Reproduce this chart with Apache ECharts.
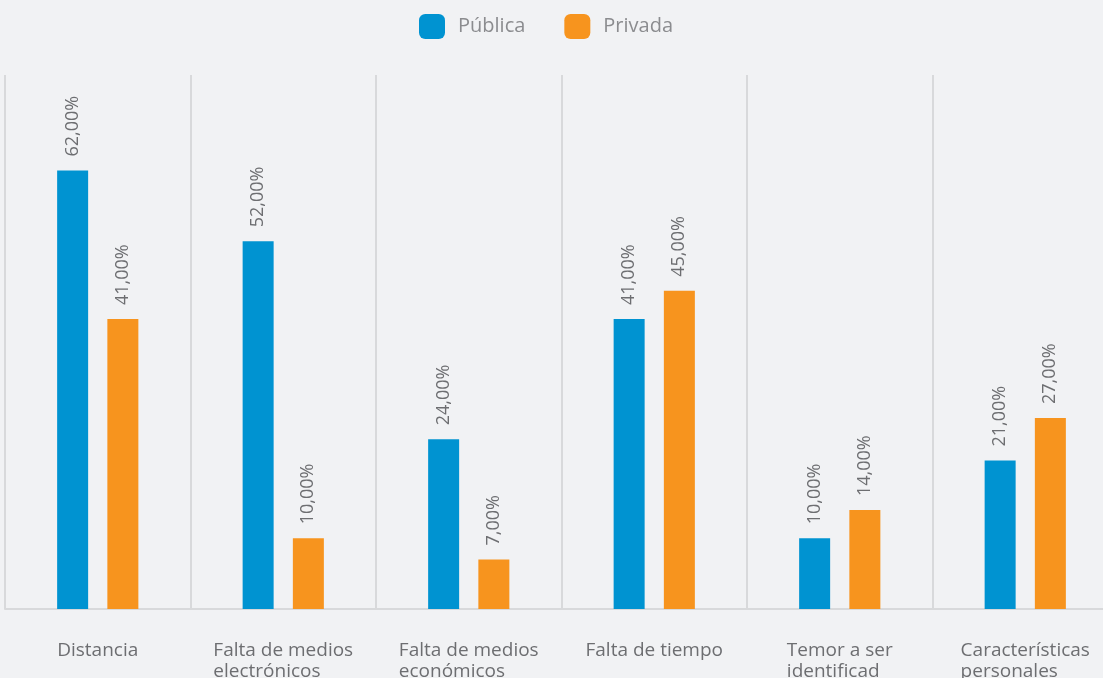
<!DOCTYPE html>
<html>
<head>
<meta charset="utf-8">
<script src="https://cdn.jsdelivr.net/npm/echarts@6/dist/echarts.min.js"></script>
<style>
html,body{margin:0;padding:0;background:#f1f2f4;}
#chart{width:1103px;height:678px;}
</style>
</head>
<body>
<div id="chart"></div>
<script>
const categories = ['Distancia', 'Falta de medios\nelectrónicos', 'Falta de medios\neconómicos', 'Falta de tiempo', 'Temor a ser\nidentificad', 'Características\npersonales'];
const seriesNames = ['Pública', 'Privada'];
const publica = [62, 52, 24, 41, 10, 21];
const privada = [41, 10, 7, 45, 14, 27];

const fmt = v => v.toFixed(2).replace('.', ',') + '%';
const chart = echarts.init(document.getElementById('chart'));
const labelStyle = {
  show: true, position: 'top', rotate: 90, align: 'left', verticalAlign: 'middle',
  distance: 14, color: '#6d6e71', fontSize: 18, fontFamily: 'Open Sans',
  formatter: p => fmt(p.value)
};
chart.setOption({
  backgroundColor: '#f1f2f4',
  animation: false,
  legend: {
    top: 9, left: 414, itemWidth: 26, itemHeight: 25, itemGap: 39, icon: 'roundRect',
    textStyle: { color: '#8b8c8f', fontSize: 20, fontFamily: 'Open Sans', padding: [0, 0, 0, 8] },
    data: seriesNames
  },
  grid: { left: 5, top: 75, width: 1113, height: 534, outerBoundsMode: 'none', containLabel: false },
  xAxis: {
    type: 'category', data: categories,
    axisLine: { lineStyle: { color: '#d8d9db', width: 2 } },
    axisTick: { show: false },
    splitLine: { show: true, interval: 0, showMaxLine: false, lineStyle: { color: '#d8d9db', width: 2 } },
    axisLabel: {
      interval: 0, margin: 31, align: 'center', color: '#6d6e71', fontSize: 19, fontFamily: 'Open Sans', lineHeight: 21,
      formatter: v => v.split('\n').map(s => '{a|' + s + '}').join('\n'),
      rich: { a: { align: 'left', color: '#6d6e71', fontSize: 19, fontFamily: 'Open Sans', lineHeight: 21 } }
    }
  },
  yAxis: { type: 'value', min: 0, max: 75.5, show: false },
  series: [
    { name: seriesNames[0], type: 'bar', data: publica, barWidth: 31, barGap: '62%', itemStyle: { color: '#0093d1' }, label: labelStyle },
    { name: seriesNames[1], type: 'bar', data: privada, barWidth: 31, barGap: '62%', itemStyle: { color: '#f7941e' }, label: labelStyle }
  ]
});
</script>
</body>
</html>
